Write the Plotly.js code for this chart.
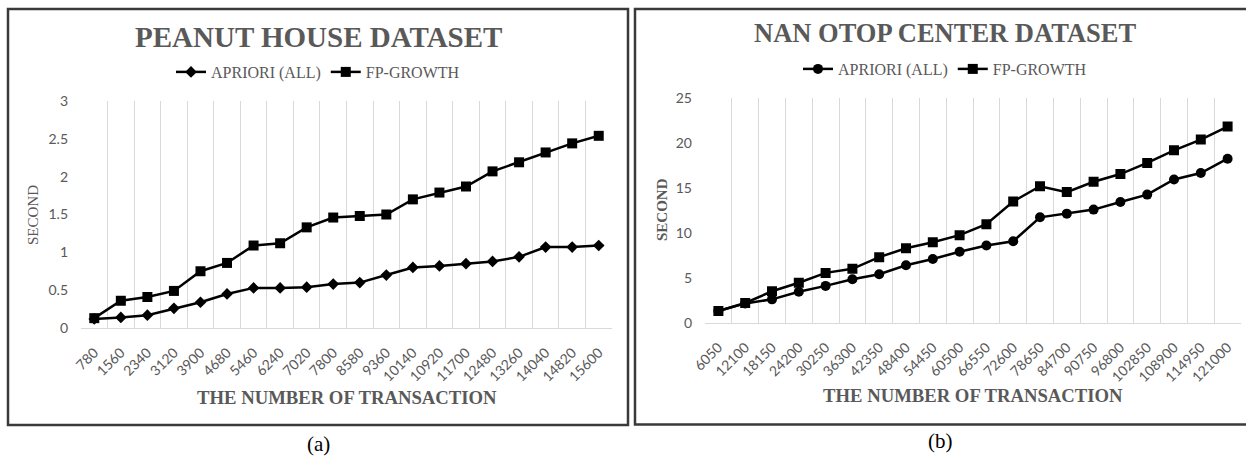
<!DOCTYPE html>
<html><head><meta charset="utf-8">
<script src="https://cdn.plot.ly/plotly-3.0.1.min.js"></script>
<style>html,body{margin:0;padding:0;background:#fff;}#chart{width:1246px;height:459px;}</style>
</head><body><div id="chart"></div>
<script>
// Peanut House dataset
const peanutTransactions = ["780","1560","2340","3120","3900","4680","5460","6240","7020","7800","8580","9360","10140","10920","11700","12480","13260","14040","14820","15600"];
const peanutApriori = [0.12,0.14,0.17,0.26,0.34,0.45,0.53,0.53,0.54,0.58,0.60,0.70,0.80,0.82,0.85,0.88,0.94,1.07,1.07,1.09];
const peanutFpGrowth = [0.13,0.36,0.41,0.49,0.75,0.86,1.09,1.12,1.33,1.46,1.48,1.50,1.70,1.79,1.87,2.07,2.19,2.32,2.44,2.54];
// Nan OTOP Center dataset
const otopTransactions = ["6050","12100","18150","24200","30250","36300","42350","48400","54450","60500","66550","72600","78650","84700","90750","96800","102850","108900","114950","121000"];
const otopApriori = [1.3,2.15,2.6,3.45,4.1,4.85,5.4,6.4,7.1,7.9,8.6,9.07,11.74,12.15,12.6,13.45,14.27,15.95,16.67,18.27];
const otopFpGrowth = [1.3,2.2,3.5,4.45,5.55,6.0,7.3,8.3,8.97,9.75,10.97,13.5,15.2,14.55,15.7,16.56,17.8,19.2,20.4,21.85];

const W = 1246, H = 459;
const px = x => x / W;
const py = y => 1 - y / H;
const gray = '#595959';
const serif = 'Liberation Serif, Times New Roman, serif';
const sans = 'Lato, Open Sans, sans-serif';

const lineStyle = {color: '#000', width: 2.5};
const traces = [
  {x: peanutTransactions, y: peanutApriori, name: 'APRIORI (ALL)', type: 'scatter', mode: 'lines+markers',
   line: lineStyle, marker: {symbol: 'diamond', size: 9, color: '#000'}, xaxis: 'x', yaxis: 'y', legend: 'legend'},
  {x: peanutTransactions, y: peanutFpGrowth, name: 'FP-GROWTH', type: 'scatter', mode: 'lines+markers',
   line: lineStyle, marker: {symbol: 'square', size: 10, color: '#000'}, xaxis: 'x', yaxis: 'y', legend: 'legend'},
  {x: otopTransactions, y: otopApriori, name: 'APRIORI (ALL)', type: 'scatter', mode: 'lines+markers',
   line: lineStyle, marker: {symbol: 'circle', size: 10, color: '#000'}, xaxis: 'x2', yaxis: 'y2', legend: 'legend2'},
  {x: otopTransactions, y: otopFpGrowth, name: 'FP-GROWTH', type: 'scatter', mode: 'lines+markers',
   line: lineStyle, marker: {symbol: 'square', size: 10, color: '#000'}, xaxis: 'x2', yaxis: 'y2', legend: 'legend2'}
];

const xCommon = {type: 'category', tickson: 'boundaries', showgrid: true, gridcolor: '#d9d9d9', gridwidth: 1,
  showline: true, linecolor: '#d9d9d9', linewidth: 1, ticks: '', tickangle: -45, ticklabelstandoff: 10,
  tickfont: {family: sans, size: 14, color: gray}, zeroline: false, fixedrange: true, automargin: false};
const yCommon = {showgrid: false, zeroline: false, showline: false, ticks: '',
  tickfont: {family: sans, size: 14, color: gray}, fixedrange: true, ticklabelstandoff: 12, automargin: false};

const layout = {
  width: W, height: H, autosize: false,
  margin: {l: 0, r: 0, t: 0, b: 0},
  paper_bgcolor: '#fff', plot_bgcolor: '#fff',
  xaxis: Object.assign({}, xCommon, {domain: [px(81), px(612)], range: [-0.5, peanutTransactions.length - 0.5], anchor: 'y'}),
  yaxis: Object.assign({}, yCommon, {domain: [py(328), py(101)], range: [0, 3], dtick: 0.5, anchor: 'x'}),
  xaxis2: Object.assign({}, xCommon, {domain: [px(705), px(1241)], range: [-0.5, otopTransactions.length - 0.5], anchor: 'y2'}),
  yaxis2: Object.assign({}, yCommon, {domain: [py(322.7), py(98.3)], range: [0, 25], dtick: 5, anchor: 'x2'}),
  legend: {orientation: 'h', x: px(318), xanchor: 'center', y: py(72), yanchor: 'middle',
    font: {family: serif, size: 16, color: gray}, bgcolor: 'rgba(0,0,0,0)', itemwidth: 30},
  legend2: {orientation: 'h', x: px(945), xanchor: 'center', y: py(69), yanchor: 'middle',
    font: {family: serif, size: 16, color: gray}, bgcolor: 'rgba(0,0,0,0)', itemwidth: 30},
  shapes: [
    {type: 'rect', xref: 'paper', yref: 'paper', x0: px(8), x1: px(628), y0: py(425), y1: py(9),
     line: {color: '#3a3a3a', width: 2.5}},
    {type: 'rect', xref: 'paper', yref: 'paper', x0: px(635), x1: px(1252), y0: py(424.5), y1: py(9),
     line: {color: '#3a3a3a', width: 2.5}}
  ],
  annotations: [
    {text: '<b>PEANUT HOUSE DATASET</b>', xref: 'paper', yref: 'paper', x: px(318), y: py(37),
     showarrow: false, xanchor: 'center', yanchor: 'middle', font: {family: serif, size: 29, color: gray}},
    {text: '<b>NAN OTOP CENTER DATASET</b>', xref: 'paper', yref: 'paper', x: px(945), y: py(33),
     showarrow: false, xanchor: 'center', yanchor: 'middle', font: {family: serif, size: 26.5, color: gray}},
    {text: 'SECOND', xref: 'paper', yref: 'paper', x: px(33), y: py(215), textangle: -90,
     showarrow: false, xanchor: 'center', yanchor: 'middle', font: {family: serif, size: 15, color: gray}},
    {text: '<b>SECOND</b>', xref: 'paper', yref: 'paper', x: px(662), y: py(210), textangle: -90,
     showarrow: false, xanchor: 'center', yanchor: 'middle', font: {family: serif, size: 15, color: gray}},
    {text: '<b>THE NUMBER OF TRANSACTION</b>', xref: 'paper', yref: 'paper', x: px(347), y: py(397),
     showarrow: false, xanchor: 'center', yanchor: 'middle', font: {family: serif, size: 18.7, color: gray}},
    {text: '<b>THE NUMBER OF TRANSACTION</b>', xref: 'paper', yref: 'paper', x: px(973), y: py(395),
     showarrow: false, xanchor: 'center', yanchor: 'middle', font: {family: serif, size: 18.7, color: gray}},
    {text: '(a)', xref: 'paper', yref: 'paper', x: px(318), y: py(444),
     showarrow: false, xanchor: 'center', yanchor: 'middle', font: {family: serif, size: 21, color: '#000'}},
    {text: '(b)', xref: 'paper', yref: 'paper', x: px(940), y: py(441),
     showarrow: false, xanchor: 'center', yanchor: 'middle', font: {family: serif, size: 21, color: '#000'}}
  ]
};

Plotly.newPlot('chart', traces, layout, {displayModeBar: false, staticPlot: true});
</script>
</body></html>
